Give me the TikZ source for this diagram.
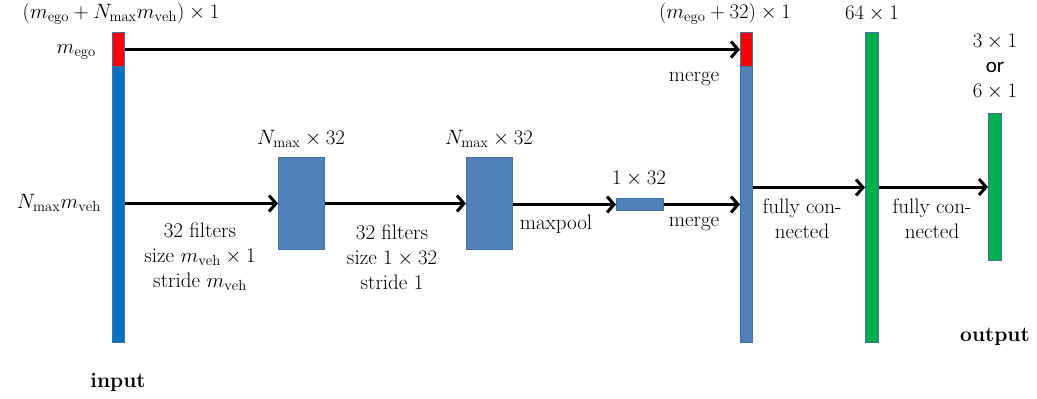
\documentclass[tikz,border=0pt]{standalone}
\usepackage{fontspec}
\newfontfamily\calibri{Carlito}
\usetikzlibrary{arrows.meta}
\definecolor{inblue}{HTML}{0070C0}
\definecolor{boxblue}{HTML}{4F81BD}
\definecolor{edgeblue}{HTML}{41719C}
\definecolor{egored}{HTML}{FF0000}
\definecolor{fcgreen}{HTML}{00B050}
\tikzset{
  bar/.style={draw=edgeblue, line width=1pt, inner sep=0pt, anchor=north west},
  lbl/.style={inner sep=0pt, align=center, font=\fontsize{21}{25}\selectfont},
  arr/.style={line width=3pt, -{Straight Barb[length=7pt,width=16pt]}},
}
\begin{document}
\begin{tikzpicture}[x=1pt,y=-1pt]
\useasboundingbox (0,0) rectangle (1037,399);
% bars
\node[bar, fill=inblue, minimum width=12pt, minimum height=310pt] (in) at (112,32) {};
\node[bar, fill=egored, minimum width=12pt, minimum height=34pt] (inego) at (112,32) {};
\node[bar, fill=boxblue, minimum width=46pt, minimum height=92pt] (b1) at (278,157) {};
\node[bar, fill=boxblue, minimum width=46pt, minimum height=92pt] (b2) at (466,157) {};
\node[bar, fill=boxblue, minimum width=47pt, minimum height=12pt] (pool) at (616,198) {};
\node[bar, fill=boxblue, minimum width=12pt, minimum height=310pt] (merge) at (740,32) {};
\node[bar, fill=egored, minimum width=12pt, minimum height=34pt] (mergeego) at (740,32) {};
\node[bar, fill=fcgreen, minimum width=13pt, minimum height=310pt] (fc) at (865,32) {};
\node[bar, fill=fcgreen, minimum width=13pt, minimum height=147pt] (out) at (988,113) {};
% connectors
\draw[arr] (inego.east) -- (mergeego.west);
\draw[arr] (in.east |- b1.west) -- (b1.west);
\draw[arr] (b1.east) -- (b2.west);
\draw[arr] (b2.east |- pool.west) -- (pool.west);
\draw[arr] (pool.east) -- (merge.west |- pool.east);
\draw[arr] (merge.east) -- (fc.west);
\draw[arr] (fc.east |- out.west) -- (out.west);
% labels
\node[lbl] (t1) at (121,14) {$\bigl(m_{\mathrm{ego}}+N_{\max}m_{\mathrm{veh}}\bigr)\times 1$};
\node[lbl, anchor=east] (t2) at (96,52) {$m_{\mathrm{ego}}$};
\node[lbl, anchor=east] (t3) at (101,203) {$N_{\max}m_{\mathrm{veh}}$};
\node[lbl] (t4) at (200,257) {32 filters\\size $m_{\mathrm{veh}}\times 1$\\stride $m_{\mathrm{veh}}$};
\node[lbl, font=\fontsize{21}{25}\selectfont\bfseries] (t5) at (118,382) {input};
\node[lbl] (t6) at (301,139) {$N_{\max}\times 32$};
\node[lbl] (t7) at (489,139) {$N_{\max}\times 32$};
\node[lbl] (t8) at (392,257) {32 filters\\size $1\times 32$\\stride 1};
\node[lbl] (t9) at (556,224) {maxpool};
\node[lbl] (t10) at (639,179) {$1\times 32$};
\node[lbl] (t11) at (694,224) {merge};
\node[lbl] (t12) at (694,79) {merge};
\node[lbl] (t13) at (725,14) {$\bigl(m_{\mathrm{ego}}+32\bigr)\times 1$};
\node[lbl] (t14) at (802,219) {fully con-\\nected};
\node[lbl] (t15) at (872,14) {$64\times 1$};
\node[lbl] (t16) at (995,67) {$3\times 1$\\{\calibri or}\\$6\times 1$};
\node[lbl] (t17) at (932,219) {fully con-\\nected};
\node[lbl, font=\fontsize{21}{25}\selectfont\bfseries] (t18) at (995,337) {output};
\end{tikzpicture}
\end{document}
